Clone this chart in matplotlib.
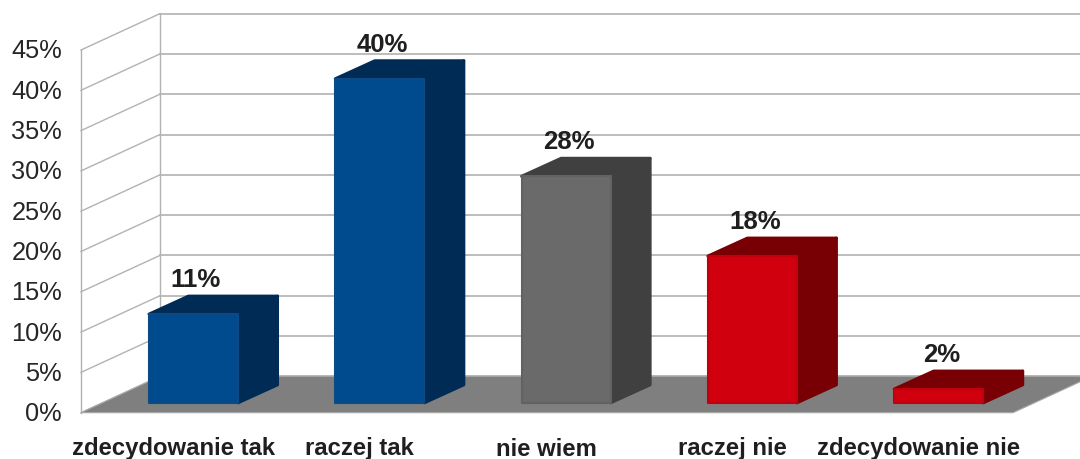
# Encuesta: wykres slupkowy "3D"
import matplotlib
matplotlib.use('Agg')
import matplotlib.pyplot as plt
from matplotlib.patches import Polygon

plt.rcParams['font.family'] = ['Liberation Sans', 'DejaVu Sans']

categorias = ['zdecydowanie tak', 'raczej tak', 'nie wiem', 'raczej nie', 'zdecydowanie nie']
valores = [11, 40.2, 28.1, 18.2, 1.7]
etiquetas = ['11%', '40%', '28%', '18%', '2%']
niveles = [0, 5, 10, 15, 20, 25, 30, 35, 40, 45]
colores = ['#004b8d', '#004b8d', '#6a6a6a', '#d0000e', '#d0000e']
bordes = ['#0b4a85', '#0b4a85', '#626262', '#c0000e', '#c0000e']
laterales = ['#002b55', '#002b55', '#404040', '#780004', '#780004']

PASO = 186.3   # pixeles entre barras
ESCALA = 8.06  # pixeles por cada 1%


def px_x(p):
    return (p - 193.5) / PASO


def px_y(p):
    return (402.8 - p) / ESCALA


fig = plt.figure(figsize=(10.8, 4.59), dpi=100)
ax = fig.add_axes([0, 0, 1, 1])
ax.set_xlim(px_x(0), px_x(1080))
ax.set_ylim(px_y(459), px_y(0))
ax.axis('off')

# Profundidad de la caja y de las barras
dx = px_x(160) - px_x(81)
dy_front = px_y(412.7)
dy_back = px_y(376.3)
x_front = px_x(81)
x_back = px_x(160)
x_end = px_x(1080)
gris = '#b2b2b2'

# Paredes
for n in niveles:
    ax.plot([x_front, x_back], [n + dy_front, n + dy_back], color=gris, lw=1, zorder=1)
    ax.plot([x_back, x_end], [n + dy_back, n + dy_back], color=gris, lw=1.2, zorder=1)
ax.plot([x_front, x_front], [dy_front, niveles[-1] + dy_front], color=gris, lw=1, zorder=1)
ax.plot([x_back, x_back], [dy_back, niveles[-1] + dy_back], color=gris, lw=1, zorder=1)

# Piso
ax.add_patch(Polygon([(x_front, dy_front), (x_back, dy_back), (x_end, dy_back),
                      (px_x(1013) + dx, dy_back), (px_x(1013), dy_front)],
                     closed=True, facecolor='#7f7f7f', edgecolor='#a8a8a8', lw=0.8, zorder=2))

# Barras
ancho = 89 / PASO
prof_x = 39.5 / PASO
prof_y = 18 / ESCALA
for i, v in enumerate(valores):
    x0 = i - ancho / 2
    x1 = i + ancho / 2
    lateral = Polygon([(x1, 0), (x1 + prof_x, prof_y), (x1 + prof_x, v + prof_y), (x1, v)],
                      closed=True, facecolor=laterales[i], edgecolor=laterales[i],
                      lw=2.2, joinstyle='round', zorder=3)
    arriba = Polygon([(x0, v), (x0 + prof_x, v + prof_y), (x1 + prof_x, v + prof_y), (x1, v)],
                     closed=True, facecolor=laterales[i], edgecolor=laterales[i],
                     lw=2.2, joinstyle='round', zorder=3)
    ax.add_patch(lateral)
    ax.add_patch(arriba)
    ax.text(i + 2.5 / PASO, v + 34 / ESCALA, etiquetas[i], ha='center', va='center',
            fontsize=18.5, fontweight='bold', color='#1f1f1f', zorder=5)

ax.bar(range(len(valores)), valores, width=ancho, color=colores, edgecolor=bordes,
       linewidth=1.5, joinstyle='round', zorder=4)

# Etiquetas
for n in niveles:
    ax.text(px_x(62), n + dy_front - 1.5 / ESCALA, str(n) + '%', ha='right', va='center',
            fontsize=18.3, color='#262626')
for i, c in enumerate(categorias):
    ax.text(i - 20 / PASO, px_y(449), c, ha='center', va='center',
            fontsize=17.2, fontweight='bold', color='#1f1f1f')

fig.savefig('out.png', dpi=100)
